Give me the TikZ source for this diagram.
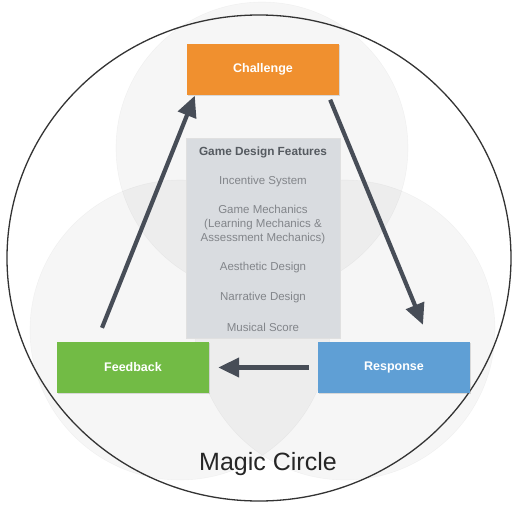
\documentclass[tikz,border=0pt]{standalone}
\usepackage{fontspec}
\setmainfont{Liberation Sans}
\usetikzlibrary{arrows.meta,shadows}
\definecolor{chor}{HTML}{F0902F}
\definecolor{fbgr}{HTML}{72BB45}
\definecolor{rsbl}{HTML}{5F9FD5}
\definecolor{arrc}{HTML}{474D57}
\definecolor{featbg}{HTML}{D9DCE0}
\definecolor{featti}{HTML}{555A60}
\definecolor{featit}{HTML}{82858A}
\tikzset{
  stepbox/.style={draw=none, minimum width=152pt, minimum height=51pt, inner sep=0pt,
    font=\fontsize{12.5}{14}\selectfont\bfseries, text=white,
    drop shadow={shadow xshift=1pt, shadow yshift=-1pt, opacity=0.25}},
  venn/.style={fill=black, fill opacity=0.035, draw=black, draw opacity=0.03, line width=0.6pt},
  arr/.style={draw=arrc, line width=4.2pt, -{Triangle[width=19pt,length=21pt]}},
  featitem/.style={font=\fontsize{11.5}{13.8}\selectfont, text=featit, align=center}
}
\begin{document}
\begin{tikzpicture}[x=1pt,y=-1pt]
\useasboundingbox (0,0) rectangle (515,509);
\fill[white] (0,0) rectangle (515,509);
% Venn circles
\path[venn] (262,148) circle[radius=146];
\path[venn] (180,330) circle[radius=150];
\path[venn] (345,330) circle[radius=150];
% magic circle
\draw[draw=black!80, line width=1.3pt] (259,258) ellipse[x radius=252, y radius=243];
% boxes
\node[stepbox, fill=chor] (ch) at (263,69) {Challenge};
\node[stepbox, fill=fbgr] (fb) at (133,367.5) {Feedback};
\node[stepbox, fill=rsbl] (rp) at (394,367.5) {Response};
% features box
\node[fill=featbg, draw=black!12, minimum width=154pt, minimum height=200pt, inner sep=0pt,
  drop shadow={shadow xshift=1pt, shadow yshift=-1pt, opacity=0.2}] (gd) at (263,238) {};
\node[font=\fontsize{11.8}{14}\selectfont\bfseries, text=featti] (t0) at (263,152) {Game Design Features};
\node[featitem] (t1) at (263,182) {Incentive System};
\node[featitem] (t2) at (263,224.5) {Game Mechanics\\(Learning Mechanics \&\\Assessment Mechanics)};
\node[featitem] (t3) at (263,268) {Aesthetic Design};
\node[featitem] (t4) at (263,298) {Narrative Design};
\node[featitem] (t5) at (263,327) {Musical Score};
% arrows
\draw[arr] ([xshift=-31pt,yshift=14pt]fb.north) -- ([xshift=8pt,yshift=-1pt]ch.south west);
\draw[arr] ([xshift=-9pt,yshift=-5pt]ch.south east) -- ([xshift=29pt,yshift=17pt]rp.north);
\draw[arr] ([xshift=-9pt]rp.west) -- ([xshift=9pt]fb.east);
% label
\node[font=\fontsize{25}{30}\selectfont, text=black!85] (mc) at (268,464) {Magic Circle};
\end{tikzpicture}
\end{document}
